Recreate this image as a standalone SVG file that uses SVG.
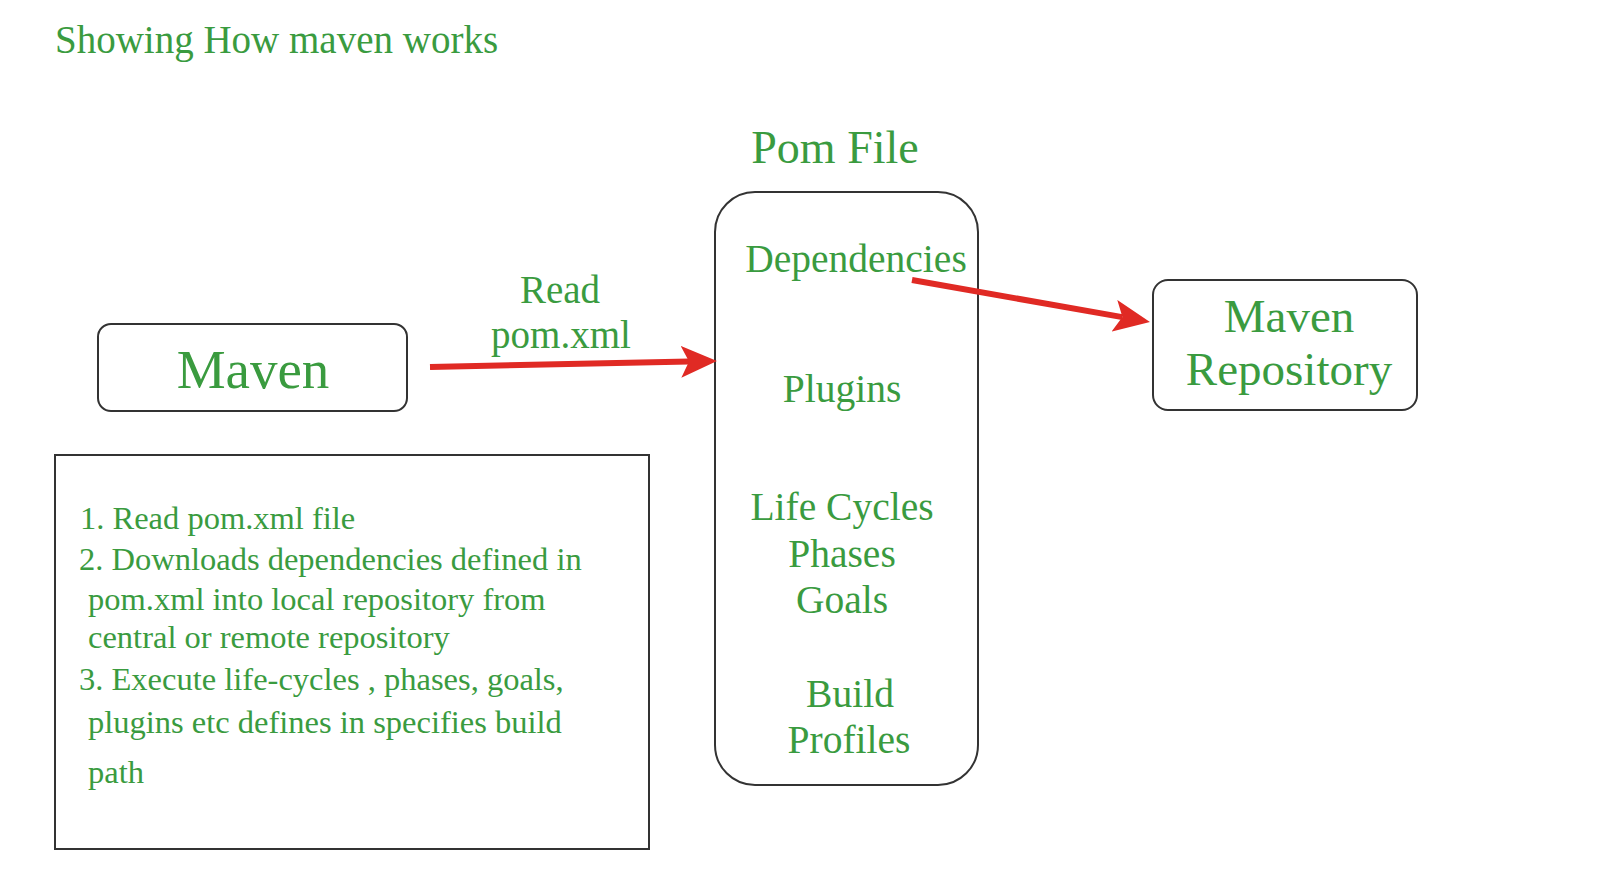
<svg xmlns="http://www.w3.org/2000/svg" width="1622" height="880" viewBox="0 0 1622 880">
<style>
.t{font-family:'Liberation Serif','Tinos','Nimbus Roman','DejaVu Serif',serif;fill:#3a9b3f}
.box{fill:#fff;stroke:#333;stroke-width:2}
.c{text-anchor:middle}
.arr{stroke:#e02a24;stroke-width:6;fill:none}
</style>
<defs>
<marker id="ah" markerUnits="userSpaceOnUse" markerWidth="36" markerHeight="32" viewBox="0 0 36 32" refX="8" refY="16" orient="auto">
<path d="M0,0 L36,16 L0,32 L8,16 z" fill="#e02a24"/>
</marker>
</defs>
<rect width="1622" height="880" fill="#fff"/>
<text class="t" x="55" y="53" font-size="39">Showing How maven works</text>
<g id="maven">
<rect class="box" x="98" y="324" width="309" height="87" rx="13"/>
<text class="t c" x="253" y="388" font-size="55">Maven</text>
</g>
<g id="pomfile">
<text class="t c" x="835" y="163" font-size="46">Pom File</text>
<rect class="box" x="715" y="192" width="263" height="593" rx="40"/>
<text class="t c" x="856" y="272" font-size="39.5">Dependencies</text>
<text class="t c" x="842" y="402" font-size="39.5">Plugins</text>
<text class="t c" x="842" y="520" font-size="39.5">Life Cycles</text>
<text class="t c" x="842" y="567" font-size="39.5">Phases</text>
<text class="t c" x="842" y="613" font-size="39.5">Goals</text>
<text class="t c" x="850" y="707" font-size="39.5">Build</text>
<text class="t c" x="849" y="753" font-size="39.5">Profiles</text>
</g>
<g id="repository">
<rect class="box" x="1153" y="280" width="264" height="130" rx="15"/>
<text class="t c" x="1289" y="332" font-size="47">Maven</text>
<text class="t c" x="1289" y="385" font-size="47">Repository</text>
</g>
<g id="steps">
<rect class="box" x="55" y="455" width="594" height="394" rx="0"/>
<text class="t" x="80" y="529" font-size="32.5">1. Read pom.xml file</text>
<text class="t" x="79" y="570" font-size="32.5">2. Downloads dependencies defined in</text>
<text class="t" x="88" y="610" font-size="32.5">pom.xml into local repository from</text>
<text class="t" x="88" y="648" font-size="32.5">central or remote repository</text>
<text class="t" x="79" y="690" font-size="32.5">3. Execute life-cycles , phases, goals,</text>
<text class="t" x="88" y="733" font-size="32.5">plugins etc defines in specifies build</text>
<text class="t" x="88" y="783" font-size="32.5">path</text>
</g>
<g id="connectors">
<line class="arr" x1="430" y1="367" x2="689" y2="361.6" marker-end="url(#ah)"/>
<text class="t c" x="560" y="303" font-size="39">Read</text>
<text class="t c" x="561" y="348" font-size="39">pom.xml</text>
<line class="arr" x1="912" y1="280" x2="1122.4" y2="317.1" marker-end="url(#ah)"/>
</g>
</svg>
